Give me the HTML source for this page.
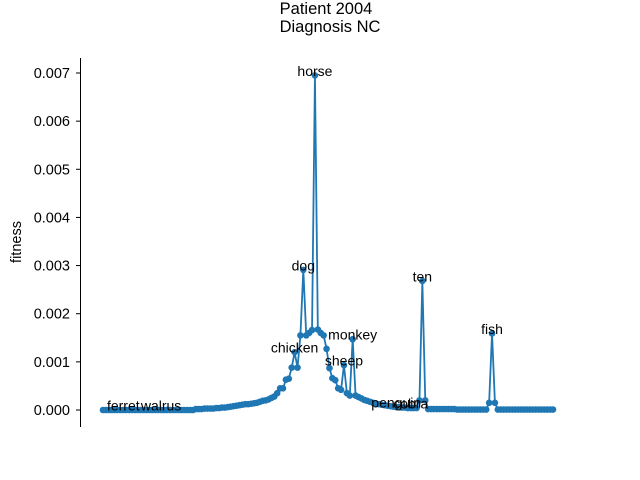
<!DOCTYPE html>
<html><head><meta charset="utf-8"><style>
html,body{margin:0;padding:0;background:#fff}
svg{display:block;font-family:"Liberation Sans","DejaVu Sans",sans-serif}
</style></head><body>
<svg id="chart" width="640" height="480" viewBox="0 0 640 480">
<text x="326" y="14" text-anchor="middle" font-size="16.5">Patient 2004</text>
<text x="330" y="32" text-anchor="middle" font-size="16.5">Diagnosis NC</text>
<text transform="translate(21,242) rotate(-90)" text-anchor="middle" font-size="14.5">fitness</text>
<line x1="80.5" y1="58" x2="80.5" y2="427" stroke="#000" stroke-width="1"/>
<g id="yticks"></g>
<g id="series"></g>
<g id="labels"></g>
</svg>
<script>
const yTicks = [0, 0.001, 0.002, 0.003, 0.004, 0.005, 0.006, 0.007];
const yTickLabels = ["0.000","0.001","0.002","0.003","0.004","0.005","0.006","0.007"];
const fitness = [
0,0,0,0,0,0,0,0,0,0,0,0,0,0,0,0,0,0,0,0,0,0,0,0,0,0,0,0,0,0,0,0,
0.00002,0.00002,0.00002,0.00003,0.00003,0.00003,0.00003,0.00004,0.00004,
0.00005,0.00005,0.00006,0.00007,0.00008,0.00009,0.0001,0.00011,0.00012,0.00012,
0.00013,0.00014,0.00015,0.00017,0.00019,0.0002,0.00022,0.00025,0.00028,0.00035,0.00045,
0.00045,0.00063,0.00065,0.00088,0.0012,0.00088,0.00155,0.00291,0.00155,0.0016,0.00166,
0.00695,0.00167,0.0016,0.00155,0.00127,0.00087,0.00066,0.00062,0.00045,0.00042,0.00093,
0.00035,0.0003,0.00147,0.0003,0.00027,0.00024,0.00021,0.00019,0.00017,0.00015,0.00013,
0.00012,0.00011,0.0001,0.00009,0.00008,0.00007,0.00006,0.00006,0.00005,0.00005,0.00004,
0.00004,0.00004,0.00004,0.0002,0.00268,0.0002,
0.00002,0.00002,0.00002,0.00002,0.00002,0.00002,0.00002,0.00002,0.00002,0.00002,
0.00001,0.00001,0.00001,0.00001,0.00001,0.00001,0.00001,0.00001,0.00001,0.00001,0.00001,
0.00015,0.00159,0.00015,
0.00001,0.00001,0.00001,0.00001,0.00001,0.00001,0.00001,0.00001,0.00001,0.00001,
0.00001,0.00001,0.00001,0.00001,0.00001,0.00001,0.00001,0.00001,0.00001,0.00001
];
const labelNames = ["ferret","walrus","chicken","dog","horse","sheep","monkey","penguin","cobra","ten","fish"];
const labelIndex = [7,20,66,69,73,83,86,101,106,110,134];

const NS="http://www.w3.org/2000/svg";
const x0=103, x1=553;
const n=fitness.length;
function xs(i){return x0+(x1-x0)*i/(n-1);}
function ys(v){return 410-v*(410-73)/0.007;}

const yt=document.getElementById('yticks');
yTicks.forEach((t,k)=>{
  const y=ys(t);
  const ln=document.createElementNS(NS,'line');
  ln.setAttribute('x1',76);ln.setAttribute('x2',80);ln.setAttribute('y1',y);ln.setAttribute('y2',y);
  ln.setAttribute('stroke','#000');
  
  
  yt.appendChild(ln);
  const tx=document.createElementNS(NS,'text');
  tx.setAttribute('x',70);tx.setAttribute('y',y+5);tx.setAttribute('text-anchor','end');tx.setAttribute('font-size','14.5');
  tx.textContent=yTickLabels[k];
  
  
  yt.appendChild(tx);
});

const sg=document.getElementById('series');
const pl=document.createElementNS(NS,'polyline');
pl.setAttribute('points',fitness.map((v,i)=>xs(i)+','+ys(v)).join(' '));
pl.setAttribute('fill','none');pl.setAttribute('stroke','#1f77b4');pl.setAttribute('stroke-width','1.8');


sg.appendChild(pl);
fitness.forEach((v,i)=>{
  const c=document.createElementNS(NS,'circle');
  c.setAttribute('cx',xs(i));c.setAttribute('cy',ys(v));c.setAttribute('r',3.3);c.setAttribute('fill','#1f77b4');
  
  
  sg.appendChild(c);
});

const lg=document.getElementById('labels');
labelNames.forEach((nm,k)=>{
  const i=labelIndex[k];
  const t=document.createElementNS(NS,'text');
  t.setAttribute('x',xs(i));t.setAttribute('y',ys(fitness[i])+0.5);
  t.setAttribute('text-anchor','middle');t.setAttribute('font-size','14');
  t.textContent=nm;
  
  
  lg.appendChild(t);
});
</script>
</body></html>
